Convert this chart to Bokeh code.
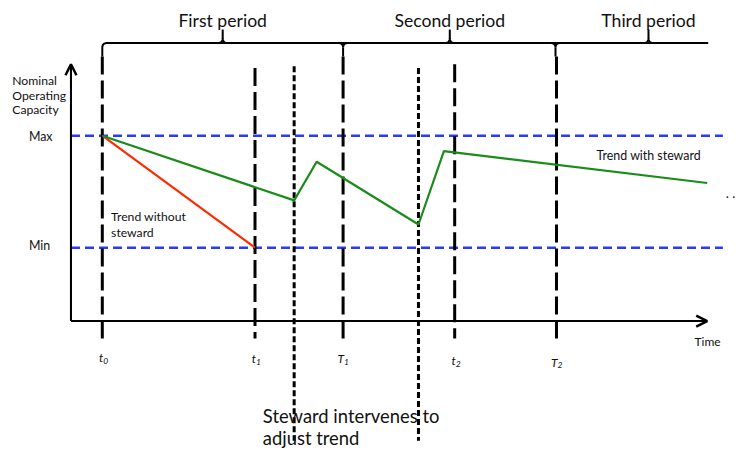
import numpy as np
from bokeh.plotting import figure
from bokeh.models import Range1d, Label, Arrow, OpenHead
from bokeh.embed import file_html
from bokeh.resources import INLINE

FONT = "Lato"

# ---- diagram data (chart units: x = time axis, y = capacity axis measured downward) ----
axis_origin = (72, 332)
axis_x_end = 722
axis_y_end = 66

level_names = ["Max", "Min"]
level_y = [140, 256]
level_label_base = [141, 254]
level_x_end = 738

time_x = [104, 260, 350, 464, 568]
time_letter = ["t", "t", "T", "t", "T"]
time_sub = ["0", "1", "1", "2", "2"]
time_top = [58, 70, 58, 66, 58]
time_bottom = 350
time_label_base = [370, 371, 371, 373, 375]

intervene_x = [300, 427]
intervene_top = [68, 70]
intervene_bottom = 456

without_x = [104, 260]
without_y = [140, 256]

with_x = [104, 300, 323, 427, 453, 722]
with_y = [140, 207, 167, 232, 156, 189]

period_names = ["First period", "Second period", "Third period"]
period_center = [227, 459, 662]
period_bounds = [104, 350, 567]
brace_end = 723
brace_y = 44

ylabel_lines = ["Nominal", "Operating", "Capacity"]
ylabel_base = [83, 98, 113]

note_lines = ["Steward intervenes to", "adjust trend"]
note_base = [430, 453]

# ---- figure ----
W, H = 740, 448
p = figure(width=W, height=H, x_range=Range1d(0, 756), y_range=Range1d(464, 0),
           output_backend="svg", toolbar_location=None, min_border=0)
p.axis.visible = False
p.grid.visible = False
p.outline_line_color = None
p.background_fill_color = "white"
p.border_fill_color = "white"

# blue reference levels
for ly in level_y:
    p.line([axis_origin[0], level_x_end], [ly, ly], line_color="#2a3cf0", line_width=2.5,
           line_dash="9 5")

# time marker lines
for tx, tt in zip(time_x, time_top):
    p.line([tx, tx], [tt, time_bottom], line_color="black", line_width=3, line_dash="18 6")

# intervention lines
for ix, it in zip(intervene_x, intervene_top):
    p.line([ix, ix], [it, intervene_bottom], line_color="black", line_width=3, line_dash="6 3")

# axes
p.line([axis_origin[0], axis_x_end - 2], [axis_origin[1], axis_origin[1]], line_color="black", line_width=2)
p.line([axis_origin[0], axis_origin[0]], [axis_origin[1], axis_y_end + 2], line_color="black", line_width=2)
p.add_layout(Arrow(end=OpenHead(size=11, line_width=2.5, line_color="black"),
                   x_start=axis_origin[0], y_start=axis_origin[1],
                   x_end=axis_x_end, y_end=axis_origin[1], line_width=2, line_color="black"))
p.add_layout(Arrow(end=OpenHead(size=11, line_width=2.5, line_color="black"),
                   x_start=axis_origin[0], y_start=axis_origin[1],
                   x_end=axis_origin[0], y_end=axis_y_end, line_width=2, line_color="black"))

# trends
p.line(without_x, without_y, line_color="#ff2a00", line_width=2.2)
p.line(with_x, with_y, line_color="#1a8c1a", line_width=2.2)

# braces
def quad(p0, p1, p2, n=12):
    t = np.linspace(0, 1, n)
    xs = (1 - t) ** 2 * p0[0] + 2 * (1 - t) * t * p1[0] + t ** 2 * p2[0]
    ys = (1 - t) ** 2 * p0[1] + 2 * (1 - t) * t * p1[1] + t ** 2 * p2[1]
    return list(xs), list(ys)

r = 5
hook = 58
tip = 30
xs_list, ys_list = [], []
b0 = period_bounds[0]
cx, cy = quad((b0, brace_y + r), (b0, brace_y), (b0 + r, brace_y))
xs_list.append([b0] + cx + [brace_end])
ys_list.append([hook] + cy + [brace_y])
for b in period_bounds[1:]:
    lx, ly = quad((b - r, brace_y), (b, brace_y), (b, brace_y + r))
    rx, ry = quad((b + r, brace_y), (b, brace_y), (b, brace_y + r))
    xs_list.append(lx + rx[::-1])
    ys_list.append(ly + ry[::-1])
    xs_list.append([b, b]); ys_list.append([brace_y + r, hook])
for c in period_center:
    lx, ly = quad((c - r, brace_y), (c, brace_y), (c, brace_y - r))
    rx, ry = quad((c + r, brace_y), (c, brace_y), (c, brace_y - r))
    xs_list.append(lx + rx[::-1]); ys_list.append(ly + ry[::-1])
    xs_list.append([c, c]); ys_list.append([brace_y - r, tip])
p.multi_line(xs_list, ys_list, line_color="black", line_width=2)

def lab(x, y, text, size, align="left", style="normal"):
    p.add_layout(Label(x=x, y=y, text=text, text_font=FONT, text_font_size=f"{size}px",
                       text_align=align, text_baseline="alphabetic", text_color="#111111",
                       text_font_style=style))

for name, c in zip(period_names, period_center):
    lab(c, 21, name, 17.6, "center")

for line, b in zip(ylabel_lines, ylabel_base):
    lab(12, b, line, 12.2)

for name, b in zip(level_names, level_label_base):
    lab(29, b, name, 12.4)

for tx, let, sub, b in zip(time_x, time_letter, time_sub, time_label_base):
    lab(tx + 1, b, let, 12, "right", "italic")
    lab(tx + 1, b + 3, sub, 8.5, "left", "italic")

lab(709, 353, "Time", 12)
lab(113, 224, "Trend without", 12.2)
lab(113, 240, "steward", 12.2)
lab(609, 161, "Trend with steward", 12.4)
lab(741, 199, ". .", 13)

for line, b in zip(note_lines, note_base):
    lab(268, b, line, 18.4)

open("out.html", "w").write(file_html(p, INLINE))
